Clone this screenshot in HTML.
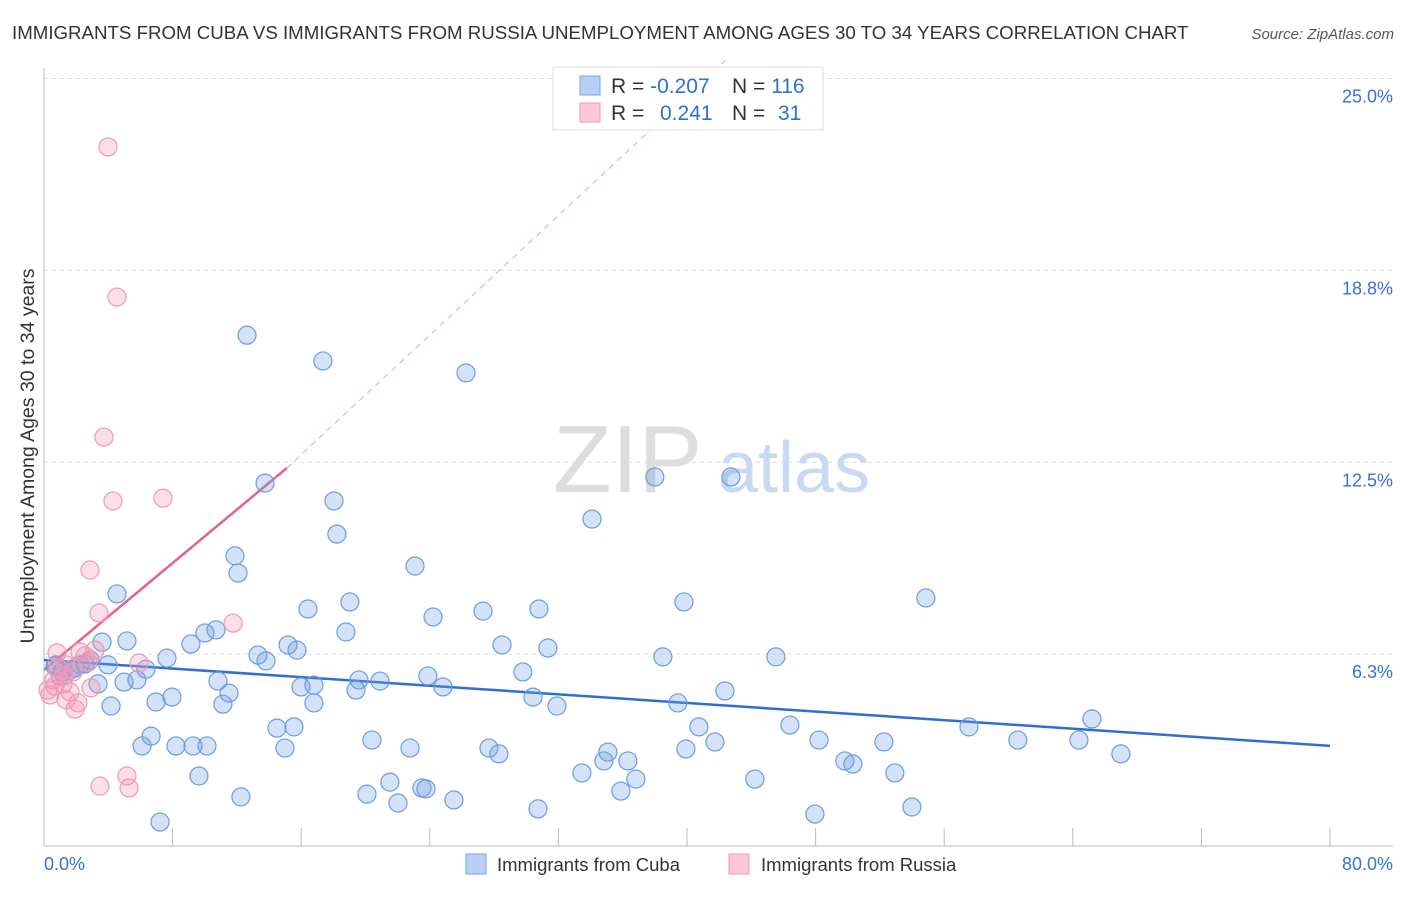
<!DOCTYPE html>
<html><head><meta charset="utf-8"><style>
body{margin:0;background:#fff;font-family:"Liberation Sans",sans-serif}
svg text{font-family:"Liberation Sans",sans-serif}
</style></head><body>
<svg id="c" width="1406" height="892" viewBox="0 0 1406 892">
<text x="12" y="39" font-size="18.7" fill="#333">IMMIGRANTS FROM CUBA VS IMMIGRANTS FROM RUSSIA UNEMPLOYMENT AMONG AGES 30 TO 34 YEARS CORRELATION CHART</text>
<text x="1394" y="39" font-size="15" fill="#555" font-style="italic" text-anchor="end">Source: ZipAtlas.com</text>
<text transform="translate(34,456) rotate(-90)" font-size="19.5" fill="#333" text-anchor="middle">Unemployment Among Ages 30 to 34 years</text>
<g><text x="553" y="492" font-size="96" font-family="Liberation Serif,serif" fill="#ddd">ZIP</text><text x="718" y="492" font-size="72" fill="#c8daf2">atlas</text></g>
<g id="grid"></g><g id="axes"></g><g id="lines"></g><g id="pts"></g>
<g>
<rect x="553" y="67" width="270" height="63" fill="#fff" stroke="#ddd"/>
<rect x="580" y="76" width="20" height="19" fill="#b8d0f4" stroke="#7aa3e0"/>
<rect x="580" y="103" width="20" height="19" fill="#fbc8d8" stroke="#ee99b4"/>
<text x="611" y="93" font-size="21" fill="#333">R = <tspan fill="#2f6fd0">-0.207</tspan></text>
<text x="732" y="93" font-size="21" fill="#333">N = <tspan fill="#2f6fd0">116</tspan></text>
<text x="611" y="120" font-size="21" fill="#333">R = </text><text x="660" y="120" font-size="21" fill="#2f6fd0">0.241</text>
<text x="732" y="120" font-size="21" fill="#333">N = </text><text x="778" y="120" font-size="21" fill="#2f6fd0">31</text>
</g>
<g>
<rect x="466" y="854" width="20" height="20" fill="#b8d0f4" stroke="#7aa3e0"/>
<text x="497" y="871" font-size="18.5" fill="#333">Immigrants from Cuba</text>
<rect x="729" y="854" width="20" height="20" fill="#fbc8d8" stroke="#ee99b4"/>
<text x="761" y="871" font-size="18.5" fill="#333">Immigrants from Russia</text>
</g>
</svg>
<script>
const yTicks=[6.25,12.5,18.75,25];
const yTickLabels=["6.3%","12.5%","18.8%","25.0%"];
const xTicks=[0,8,16,24,32,40,48,56,64,72,80];
const cubaX=[12.63,17.35,26.25,13.75,38.00,42.73,18.04,34.09,18.22,11.88,12.07,23.08,4.54,54.86,19.03,39.81,16.42,27.31,30.79,24.20,10.70,18.78,5.16,3.61,9.14,10.01,15.18,28.49,31.35,15.74,13.31,7.65,13.81,38.50,45.53,3.98,0.75,1.62,1.12,2.55,6.34,4.98,5.78,3.36,20.90,23.88,29.79,10.82,19.59,24.82,16.79,15.99,19.41,11.51,42.36,7.96,6.97,30.42,4.17,11.13,16.79,31.91,39.43,65.19,6.66,14.49,15.55,40.74,46.40,57.54,20.40,41.74,48.21,52.25,60.58,64.38,6.10,8.21,9.27,10.14,14.99,22.77,27.68,28.30,35.08,39.93,66.99,34.83,36.32,49.82,50.32,9.64,21.52,33.46,36.82,44.22,52.93,20.09,12.25,22.02,23.51,23.76,25.50,35.89,53.99,30.73,47.96,7.22,0.68,1.00,1.93,2.86,2.24];
const cubaY=[16.64,15.80,15.41,11.82,12.02,12.02,11.24,10.65,10.16,9.45,8.89,9.12,8.21,8.08,7.95,7.95,7.72,7.65,7.72,7.46,7.04,6.97,6.68,6.64,6.58,6.94,6.55,6.55,6.45,6.38,6.22,6.12,6.03,6.16,6.16,5.90,5.90,5.73,5.67,5.93,5.76,5.34,5.41,5.28,5.37,5.54,5.67,5.37,5.41,5.18,5.24,5.18,5.08,4.98,5.05,4.85,4.69,4.85,4.56,4.62,4.66,4.56,4.66,4.14,3.58,3.84,3.88,3.88,3.94,3.88,3.45,3.39,3.45,3.39,3.45,3.45,3.26,3.26,3.26,3.26,3.19,3.19,3.19,3.00,3.06,3.16,3.00,2.77,2.77,2.77,2.67,2.28,2.08,2.38,2.18,2.18,2.38,1.69,1.60,1.40,1.89,1.86,1.50,1.79,1.27,1.21,1.04,0.78,5.86,5.54,5.80,6.06,5.90];
const russiaX=[3.98,4.54,3.73,4.29,7.40,2.86,3.42,11.76,0.81,2.24,3.17,2.74,5.91,1.37,1.80,0.62,1.18,0.25,0.37,1.62,1.24,2.92,2.11,1.37,1.93,5.16,3.48,5.29,0.68,0.87,2.55];
const russiaY=[22.77,17.88,13.32,11.24,11.33,8.99,7.59,7.26,6.29,6.32,6.38,5.99,5.96,5.90,5.67,5.41,5.28,5.08,4.92,5.02,5.54,5.15,4.66,4.76,4.46,2.28,1.95,1.89,5.21,5.80,6.19];
const cubaLine=[6.06,3.26];
const russiaLine=[5.73,12.31,25.6];
const russiaLineX=[0,15.1,42.4];
const X=v=>44+v*1286/80, Y=v=>846-v*767.5/25;
const NS="http://www.w3.org/2000/svg";
function mk(p,t,a){const e=document.createElementNS(NS,t);for(const k in a)e.setAttribute(k,a[k]);p.appendChild(e);return e;}
const g=document.getElementById('grid'),ax=document.getElementById('axes'),ln=document.getElementById('lines'),pt=document.getElementById('pts');
yTicks.forEach((t,i)=>{
 const l=mk(g,'line',{x1:44,x2:1393,y1:Y(t),y2:Y(t),stroke:'#ddd','stroke-dasharray':'4,4'});
 
 
 const tx=mk(g,'text',{x:1393,y:Y(t)+24,'font-size':18,fill:'#3a72d0','text-anchor':'end'});
 tx.textContent=yTickLabels[i];
 
 
});
mk(ax,'line',{x1:44,x2:44,y1:68,y2:846,stroke:'#bbb'});
mk(ax,'line',{x1:44,x2:1393,y1:846,y2:846,stroke:'#bbb'});
xTicks.forEach(t=>{const l=mk(ax,'line',{x1:X(t),x2:X(t),y1:828,y2:846,stroke:'#bbb'});
 
 });
let t0=mk(ax,'text',{x:44,y:870,'font-size':18,fill:'#3a72d0'});t0.textContent='0.0%';


let t1=mk(ax,'text',{x:1393,y:870,'font-size':18,fill:'#3a72d0','text-anchor':'end'});t1.textContent='80.0%';


cubaX.forEach((x,i)=>{const c=mk(pt,'circle',{cx:X(x),cy:Y(cubaY[i]),r:9,fill:'rgba(110,160,230,0.3)',stroke:'#6b9be0','stroke-width':1.2});
 
 });
russiaX.forEach((x,i)=>{const c=mk(pt,'circle',{cx:X(x),cy:Y(russiaY[i]),r:9,fill:'rgba(245,150,180,0.3)',stroke:'#ee99b4','stroke-width':1.2});
 
 });
const bl=mk(ln,'line',{x1:X(0),y1:Y(cubaLine[0]),x2:X(80),y2:Y(cubaLine[1]),stroke:'#2f6fd0','stroke-width':2.5});


const rl=mk(ln,'line',{x1:X(russiaLineX[0]),y1:Y(russiaLine[0]),x2:X(russiaLineX[1]),y2:Y(russiaLine[1]),stroke:'#e8608a','stroke-width':2.5});


const rd=mk(ln,'line',{x1:X(russiaLineX[1]),y1:Y(russiaLine[1]),x2:X(russiaLineX[2]),y2:Y(russiaLine[2]),stroke:'#f0a0b8','stroke-width':1,'stroke-dasharray':'6,5'});


</script>
</body></html>
